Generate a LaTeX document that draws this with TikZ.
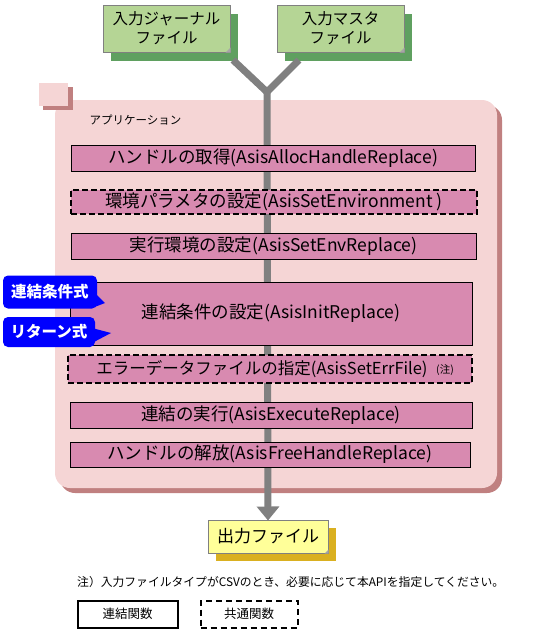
\documentclass[tikz,border=0pt]{standalone}
\usepackage{fontspec}
\setmainfont{Noto Sans CJK JP}
\usetikzlibrary{arrows.meta,shadows}
\definecolor{grn}{HTML}{B5D595}
\definecolor{grnsh}{HTML}{5FA060}
\definecolor{pinkbg}{HTML}{F5D5D5}
\definecolor{pinksh}{HTML}{C08080}
\definecolor{boxpink}{HTML}{D88AB0}
\definecolor{ylw}{HTML}{FFFF99}
\definecolor{ylwsh}{HTML}{DAB020}
\definecolor{linegray}{HTML}{808080}
\definecolor{callblue}{HTML}{0000FF}
\begin{document}
\begin{tikzpicture}[x=1pt,y=-1pt,
  filebox/.style={draw=linegray,line width=1pt,fill=grn,align=center,inner sep=0pt,
     font=\fontsize{15.5}{19}\selectfont,
     drop shadow={shadow xshift=8pt,shadow yshift=-9pt,fill=grnsh,opacity=1}},
  fnbox/.style={draw=black,line width=0.8pt,fill=boxpink,inner sep=0pt,
     font=\fontsize{17.5}{19}\selectfont},
  combox/.style={fnbox,line width=1.8pt,dash pattern=on 6pt off 3pt},
  callout/.style={fill=callblue,text=white,rounded corners=5pt,inner sep=0pt,
     font=\bfseries\fontsize{15.5}{17}\selectfont},
  flow/.style={draw=linegray,line width=7pt}
]
\useasboundingbox (0,0) rectangle (533,630);
% input files
\node[filebox,minimum width=127pt,minimum height=47pt] (jf) at (166.5,28.5) {入力ジャーナル\\ファイル};
\node[filebox,minimum width=127pt,minimum height=47pt] (mf) at (340.5,28.5) {入力マスタ\\ファイル};
\fill[linegray!70] (jf.south east) ++(-5,0) -- ++(5,-5) -- ++(0,5) -- cycle;
\fill[linegray!70] (mf.south east) ++(-5,0) -- ++(5,-5) -- ++(0,5) -- cycle;
% application container
\fill[pinksh,rounded corners=15pt] (60,105) rectangle (502,493);
\node[draw=none,fill=pinkbg,rounded corners=15pt,minimum width=442pt,minimum height=388pt,inner sep=0pt] (app) at (276,294) {};
\fill[pinksh] (43,87) rectangle (73,110);
\node[fill=pinkbg,minimum width=29pt,minimum height=23pt,inner sep=0pt] (sq) at (53.5,94) {};
\node[anchor=west,font=\fontsize{11.5}{13}\selectfont] (applbl) at (86,120) {アプリケーション};
% flow line
\coordinate (jn) at (267,92);
\coordinate (jl) at (233,60);
\coordinate (jr) at (299,60);
\node[fill=ylw,draw=linegray,line width=1pt,minimum width=120pt,minimum height=33pt,inner sep=0pt,
  font=\fontsize{17}{19}\selectfont,
  drop shadow={shadow xshift=8pt,shadow yshift=-8pt,fill=ylwsh,opacity=1}] (out) at (268,536.5) {出力ファイル};
\fill[linegray!70] (out.south east) ++(-4,0) -- ++(4,-4) -- ++(0,4) -- cycle;
\draw[flow] (jl) -- (jn) -- (jr);
\draw[flow,-{Triangle[width=22pt,length=14pt]}] (jn) -- ([yshift=-1pt]out.north);
% function boxes
\node[fnbox,minimum width=404pt,minimum height=26pt] (b1) at (273,158) {ハンドルの取得(AsisAllocHandleReplace)};
\node[combox,minimum width=406pt,minimum height=24pt] (b2) at (274,202) {環境パラメタの設定(AsisSetEnvironment )};
\node[fnbox,minimum width=405pt,minimum height=26pt] (b3) at (273.5,246) {実行環境の設定(AsisSetEnvReplace)};
\node[fnbox,minimum width=402pt,minimum height=63pt] (b4) at (271,313.5) {連結条件の設定(AsisInitReplace)};
\node[combox,minimum width=404pt,minimum height=28pt] (b5) at (270,369) {};
\node[font=\fontsize{16.5}{18}\selectfont] (b5t) at (262,369) {エラーデータファイルの指定(AsisSetErrFile)};
\node[font=\fontsize{10.5}{12}\selectfont] (b5n) at (445,370) {(注)};
\node[fnbox,minimum width=402pt,minimum height=26pt] (b6) at (271,415) {連結の実行(AsisExecuteReplace)};
\node[fnbox,minimum width=400pt,minimum height=25pt] (b7) at (270,454.5) {ハンドルの解放(AsisFreeHandleReplace)};
% callouts
\node[callout,minimum width=94pt,minimum height=33pt] (c1) at (50,292) {連結条件式};
\fill[callblue] (94,292) -- (105,303) -- (92,308) -- cycle;
\node[callout,minimum width=92pt,minimum height=30pt] (c2) at (49,332) {リターン式};
\fill[callblue] (92,328) -- (111,333) -- (92,343) -- cycle;
% note
\node[anchor=west,font=\fontsize{11.8}{13}\selectfont,inner sep=0pt] (note) at (77,582) {注）入力ファイルタイプがCSVのとき、必要に応じて本APIを指定してください。};
% legend
\node[draw=black,line width=2pt,minimum width=100pt,minimum height=27pt,inner sep=0pt,font=\fontsize{12.5}{14}\selectfont] (l1) at (127.5,614) {連結関数};
\node[draw=black,line width=2pt,dash pattern=on 6pt off 4pt,minimum width=97pt,minimum height=27pt,inner sep=0pt,font=\fontsize{12.5}{14}\selectfont] (l2) at (249,614) {共通関数};
\end{tikzpicture}
\end{document}
